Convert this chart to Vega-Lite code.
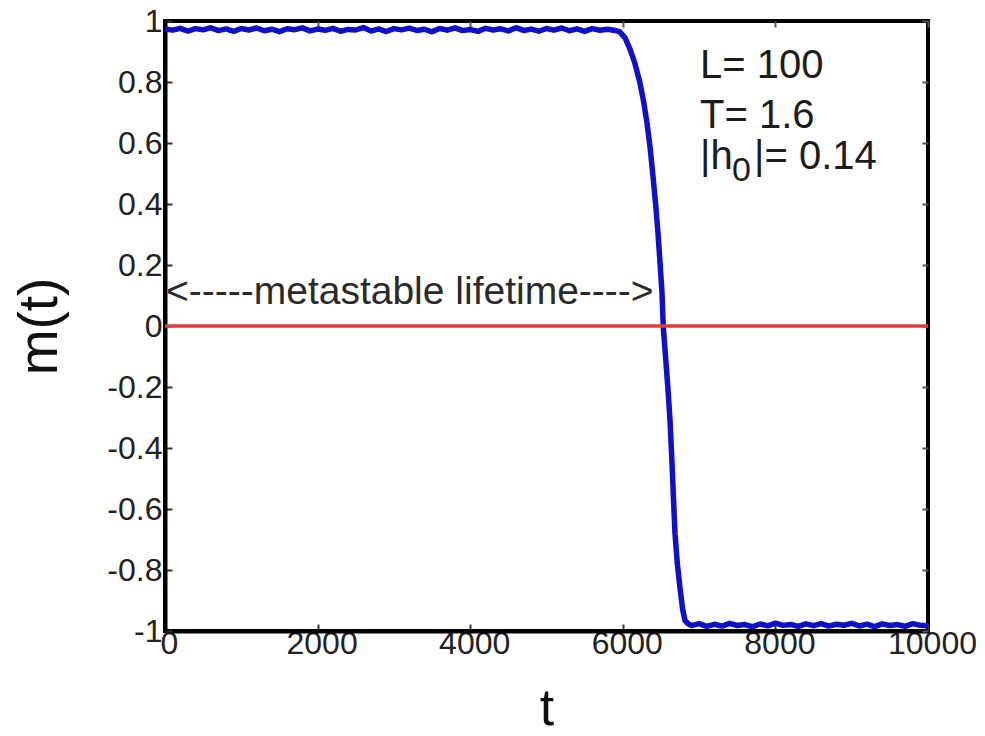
{
  "$schema": "https://vega.github.io/schema/vega-lite/v6.json",
  "width": 763,
  "height": 610,
  "autosize": {"type": "none"},
  "padding": {"left": 165, "top": 21, "right": 57, "bottom": 105},
  "background": "white",
  "config": {
    "view": {"stroke": "black", "strokeWidth": 4},
    "font": "Liberation Sans",
    "axis": {"grid": false, "labelFont": "Liberation Sans", "titleFont": "Liberation Sans", "titleFontWeight": "normal"}
  },
  "datasets": {
    "curve": [
      {"t": 0, "m": 0.9735}, {"t": 100, "m": 0.970}, {"t": 200, "m": 0.976}, {"t": 300, "m": 0.967}, {"t": 400, "m": 0.975},
      {"t": 500, "m": 0.971}, {"t": 600, "m": 0.978}, {"t": 700, "m": 0.9685}, {"t": 800, "m": 0.974}, {"t": 900, "m": 0.966},
      {"t": 1000, "m": 0.9755}, {"t": 1100, "m": 0.9705}, {"t": 1200, "m": 0.977}, {"t": 1300, "m": 0.968}, {"t": 1400, "m": 0.973},
      {"t": 1500, "m": 0.965}, {"t": 1600, "m": 0.9745}, {"t": 1700, "m": 0.9715}, {"t": 1800, "m": 0.9775}, {"t": 1900, "m": 0.9675},
      {"t": 2000, "m": 0.9735}, {"t": 2100, "m": 0.9695}, {"t": 2200, "m": 0.976}, {"t": 2300, "m": 0.9665}, {"t": 2400, "m": 0.9725},
      {"t": 2500, "m": 0.9705}, {"t": 2600, "m": 0.9785}, {"t": 2700, "m": 0.967}, {"t": 2800, "m": 0.974}, {"t": 2900, "m": 0.9655},
      {"t": 3000, "m": 0.975}, {"t": 3100, "m": 0.971}, {"t": 3200, "m": 0.9765}, {"t": 3300, "m": 0.969}, {"t": 3400, "m": 0.973},
      {"t": 3500, "m": 0.9645}, {"t": 3600, "m": 0.9755}, {"t": 3700, "m": 0.970}, {"t": 3800, "m": 0.9775}, {"t": 3900, "m": 0.9685},
      {"t": 4000, "m": 0.972}, {"t": 4100, "m": 0.966}, {"t": 4200, "m": 0.976}, {"t": 4300, "m": 0.9705}, {"t": 4400, "m": 0.9745},
      {"t": 4500, "m": 0.9675}, {"t": 4600, "m": 0.978}, {"t": 4700, "m": 0.969}, {"t": 4800, "m": 0.9735}, {"t": 4900, "m": 0.9665},
      {"t": 5000, "m": 0.9755}, {"t": 5100, "m": 0.970}, {"t": 5200, "m": 0.977}, {"t": 5300, "m": 0.968}, {"t": 5400, "m": 0.974},
      {"t": 5500, "m": 0.966}, {"t": 5600, "m": 0.975}, {"t": 5700, "m": 0.9695}, {"t": 5800, "m": 0.973}, {"t": 5900, "m": 0.969},
      {"t": 5960, "m": 0.964}, {"t": 6030, "m": 0.945}, {"t": 6094, "m": 0.908}, {"t": 6160, "m": 0.86}, {"t": 6225, "m": 0.797},
      {"t": 6270, "m": 0.74}, {"t": 6317, "m": 0.666}, {"t": 6360, "m": 0.58}, {"t": 6396, "m": 0.49}, {"t": 6430, "m": 0.4},
      {"t": 6461, "m": 0.305}, {"t": 6490, "m": 0.2}, {"t": 6514, "m": 0.108}, {"t": 6530, "m": 0.0}, {"t": 6560, "m": -0.1},
      {"t": 6590, "m": -0.2}, {"t": 6619, "m": -0.31}, {"t": 6645, "m": -0.45}, {"t": 6665, "m": -0.57}, {"t": 6684, "m": -0.68},
      {"t": 6715, "m": -0.78}, {"t": 6750, "m": -0.86}, {"t": 6785, "m": -0.93}, {"t": 6815, "m": -0.965}, {"t": 6850, "m": -0.975},
      {"t": 6900, "m": -0.9825}, {"t": 7000, "m": -0.976}, {"t": 7100, "m": -0.985}, {"t": 7200, "m": -0.978}, {"t": 7300, "m": -0.984},
      {"t": 7400, "m": -0.975}, {"t": 7500, "m": -0.982}, {"t": 7600, "m": -0.979}, {"t": 7700, "m": -0.986}, {"t": 7800, "m": -0.977},
      {"t": 7900, "m": -0.983}, {"t": 8000, "m": -0.9745}, {"t": 8100, "m": -0.9815}, {"t": 8200, "m": -0.9785}, {"t": 8300, "m": -0.985},
      {"t": 8400, "m": -0.9765}, {"t": 8500, "m": -0.9825}, {"t": 8600, "m": -0.9755}, {"t": 8700, "m": -0.984}, {"t": 8800, "m": -0.978},
      {"t": 8900, "m": -0.981}, {"t": 9000, "m": -0.975}, {"t": 9100, "m": -0.9835}, {"t": 9200, "m": -0.9775}, {"t": 9300, "m": -0.9855},
      {"t": 9400, "m": -0.9765}, {"t": 9500, "m": -0.982}, {"t": 9600, "m": -0.979}, {"t": 9700, "m": -0.9845}, {"t": 9800, "m": -0.976},
      {"t": 9900, "m": -0.9815}, {"t": 10000, "m": -0.9825}
    ],
    "zero": [{"t": 0, "m": 0}, {"t": 10000, "m": 0}],
    "notes": [
      {"t": 7012, "m": 0.813, "label": "L= 100"},
      {"t": 7012, "m": 0.649, "label": "T= 1.6"},
      {"t": 7012, "m": 0.515, "label": "|h"},
      {"t": 7720, "m": 0.515, "label": "|= 0.14"}
    ],
    "sub": [{"t": 7431, "m": 0.475, "label": "0"}],
    "life": [{"t": 13, "m": 0.072, "label": "<-----metastable lifetime---->"}]
  },
  "layer": [
    {
      "data": {"name": "curve"},
      "mark": {"type": "line", "color": "#1010c8", "strokeWidth": 5.5, "strokeJoin": "round"},
      "encoding": {
        "x": {"field": "t", "type": "quantitative", "scale": {"domain": [0, 10000], "nice": false, "zero": false},
          "axis": {"orient": "bottom", "values": [0, 2000, 4000, 6000, 8000, 10000], "format": "d", "title": "t",
            "titleFontSize": 52, "titleColor": "#111", "titleBaseline": "alphabetic", "titleAlign": "center", "titleX": 381.5, "titleY": 93,
            "labelFontSize": 32, "labelColor": "#222", "labelPadding": 4, "labelFlush": false, "labelOverlap": false, "labelOffset": 4,
            "tickSize": -7, "tickColor": "#333", "tickWidth": 2, "domainColor": "black", "domainWidth": 4}},
        "y": {"field": "m", "type": "quantitative", "scale": {"domain": [-1, 1], "nice": false, "zero": false},
          "axis": {"orient": "left", "values": [-1, -0.8, -0.6, -0.4, -0.2, 0, 0.2, 0.4, 0.6, 0.8, 1], "format": "~g", "title": "m(t)",
            "labelExpr": "replace(datum.label, '−', '-')",
            "titleFontSize": 55, "titleColor": "#111", "titleAngle": -90, "titleBaseline": "alphabetic", "titleAlign": "center", "titleX": -109, "titleY": 305,
            "labelFontSize": 32, "labelColor": "#222", "labelPadding": 10, "labelFlush": false, "labelOverlap": false,
            "tickSize": -7, "tickColor": "#333", "tickWidth": 2, "domainColor": "black", "domainWidth": 4}}
      }
    },
    {
      "data": {"name": "zero"},
      "mark": {"type": "line", "color": "#e03c3c", "strokeWidth": 3.5},
      "encoding": {
        "x": {"field": "t", "type": "quantitative", "scale": {"domain": [0, 10000], "nice": false, "zero": false},
          "axis": {"orient": "top", "values": [0, 2000, 4000, 6000, 8000, 10000], "title": null, "labels": false, "domain": false,
            "tickSize": -6, "tickColor": "#555", "tickWidth": 2}},
        "y": {"field": "m", "type": "quantitative", "scale": {"domain": [-1, 1], "nice": false, "zero": false},
          "axis": {"orient": "right", "values": [-1, -0.8, -0.6, -0.4, -0.2, 0, 0.2, 0.4, 0.6, 0.8, 1], "title": null, "labels": false, "domain": false,
            "tickSize": -6, "tickColor": "#555", "tickWidth": 2}}
      }
    },
    {
      "data": {"name": "notes"},
      "mark": {"type": "text", "align": "left", "baseline": "alphabetic", "fontSize": 40, "color": "#1c1c1c", "font": "Liberation Sans"},
      "encoding": {
        "x": {"field": "t", "type": "quantitative", "scale": {"domain": [0, 10000], "nice": false, "zero": false}, "axis": null},
        "y": {"field": "m", "type": "quantitative", "scale": {"domain": [-1, 1], "nice": false, "zero": false}, "axis": null},
        "text": {"field": "label"}
      }
    },
    {
      "data": {"name": "sub"},
      "mark": {"type": "text", "align": "left", "baseline": "alphabetic", "fontSize": 34, "color": "#1c1c1c", "font": "Liberation Sans"},
      "encoding": {
        "x": {"field": "t", "type": "quantitative", "scale": {"domain": [0, 10000], "nice": false, "zero": false}, "axis": null},
        "y": {"field": "m", "type": "quantitative", "scale": {"domain": [-1, 1], "nice": false, "zero": false}, "axis": null},
        "text": {"field": "label"}
      }
    },
    {
      "data": {"name": "life"},
      "mark": {"type": "text", "align": "left", "baseline": "alphabetic", "fontSize": 39, "color": "#2a2a2a", "font": "Liberation Sans"},
      "encoding": {
        "x": {"field": "t", "type": "quantitative", "scale": {"domain": [0, 10000], "nice": false, "zero": false}, "axis": null},
        "y": {"field": "m", "type": "quantitative", "scale": {"domain": [-1, 1], "nice": false, "zero": false}, "axis": null},
        "text": {"field": "label"}
      }
    }
  ],
  "resolve": {"axis": {"x": "independent", "y": "independent"}}
}
